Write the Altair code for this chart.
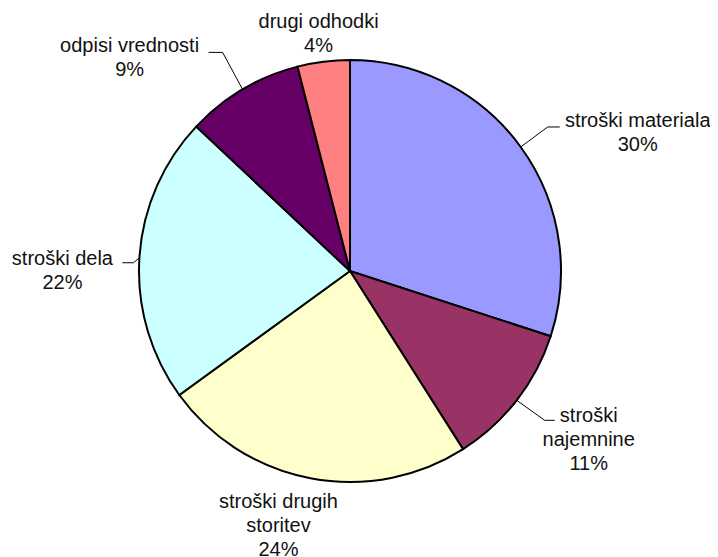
import altair as alt
import pandas as pd

# ---- data ----
categories = ["stroški materiala", "stroški najemnine", "stroški drugih storitev",
              "stroški dela", "odpisi vrednosti", "drugi odhodki"]
shares = [30, 11, 24, 22, 9, 4]
label_lines = [["stroški materiala"], ["stroški", "najemnine"], ["stroški drugih", "storitev"],
               ["stroški dela"], ["odpisi vrednosti"], ["drugi odhodki"]]
colors = ["#9999FF", "#993366", "#FFFFCC", "#CCFFFF", "#660066", "#FF8080"]

# ---- layout (pixels, relative to the slice's outer-edge anchor) ----
CX, CY, R = 342, 263, 211
label_dx = [117, 72, -32, -77, -113, -5]
label_dy = [-20, 22, 30, 7, -37, -34]
elbow_dx = [27, 28, None, -6, -20, None]
elbow_dy = [-20, 20, None, 5, -37, None]
end_dx = [39, 38, None, -17, -34, None]

rows = []
for i, c in enumerate(categories):
    rows.append({
        "idx": i, "category": c, "share": shares[i],
        "lines": label_lines[i] + [f"{shares[i]}%"],
        "ldx": label_dx[i], "ldy": label_dy[i],
        "edx": elbow_dx[i], "edy": elbow_dy[i], "endx": end_dx[i],
    })
df = pd.DataFrame(rows)

base = alt.Chart(df).transform_window(
    cum="sum(share)", sort=[alt.SortField("idx")]
).transform_joinaggregate(
    total="sum(share)"
).transform_calculate(
    mid="(datum.cum - datum.share/2) / datum.total * 2 * PI",
).transform_calculate(
    ax=f"{CX} + {R} * sin(datum.mid)",
    ay=f"{CY} - {R} * cos(datum.mid)",
).transform_calculate(
    lx="datum.ax + datum.ldx",
    ly="datum.ay + datum.ldy",
    ex="datum.ax + datum.edx",
    ey="datum.ay + datum.edy",
    hx="datum.ax + datum.endx",
)

pie = alt.Chart(df).mark_arc(outerRadius=R, stroke="black", strokeWidth=2).encode(
    theta=alt.Theta("share:Q", stack=True),
    order=alt.Order("idx:Q"),
    color=alt.Color("category:N", scale=alt.Scale(domain=categories, range=colors), legend=None),
    x=alt.value(CX), y=alt.value(CY),
)

leaders = base.transform_filter("isValid(datum.edx)")
seg1 = leaders.mark_rule(color="black", strokeWidth=1).encode(
    x=alt.X("ax:Q", scale=None), y=alt.Y("ay:Q", scale=None),
    x2="ex:Q", y2="ey:Q",
)
seg2 = leaders.mark_rule(color="black", strokeWidth=1).encode(
    x=alt.X("ex:Q", scale=None), y=alt.Y("ey:Q", scale=None),
    x2="hx:Q", y2="ey:Q",
)

labels = base.mark_text(font="Liberation Sans", fontSize=20, lineHeight=24, align="center",
                        baseline="alphabetic", color="#111111").encode(
    x=alt.X("lx:Q", scale=None), y=alt.Y("ly:Q", scale=None),
    text="lines",
)

chart = alt.layer(pie, seg1, seg2, labels).properties(
    width=702, height=549, padding=0, autosize=alt.AutoSizeParams(type="none")
).configure_view(stroke=None)

chart.save("out.html", embed_options={"renderer": "svg", "actions": False})
